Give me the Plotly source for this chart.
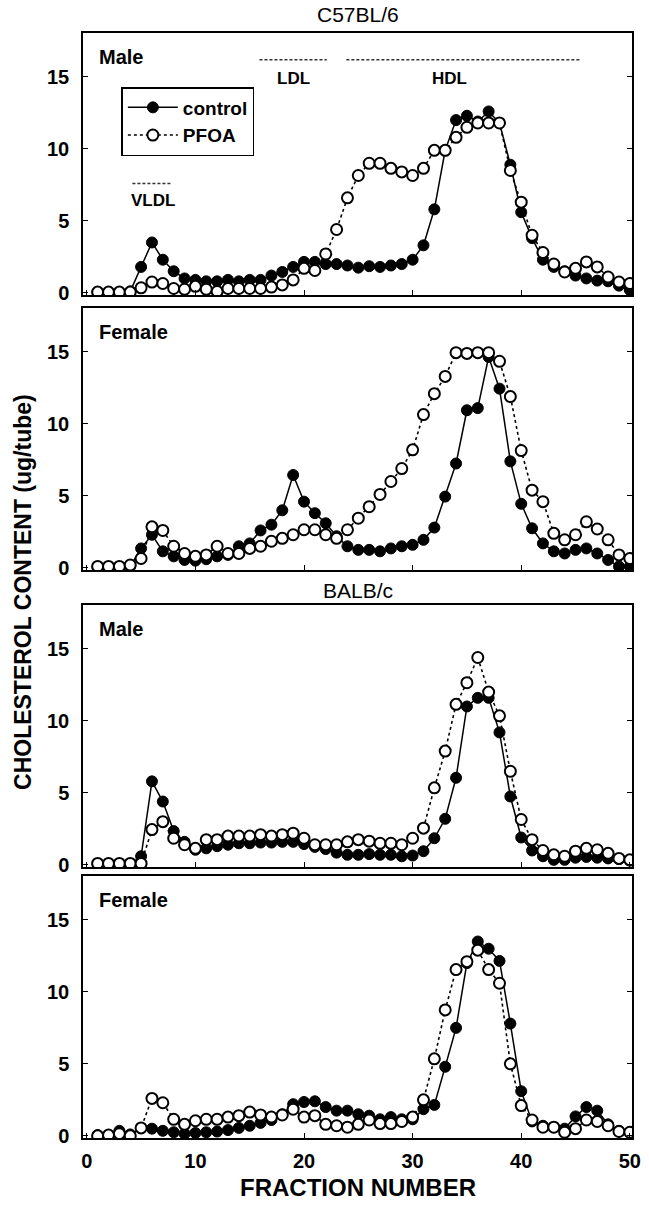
import plotly.graph_objects as go

fractions = list(range(1, 51))

c57_male_control = [0.05, 0.05, 0.05, 0.1, 1.8, 3.5, 2.3, 1.5, 1.0, 0.9,
                    0.8, 0.8, 0.9, 0.8, 0.9, 0.9, 1.2, 1.45, 1.8, 2.15,
                    2.15, 2.0, 2.0, 1.9, 1.75, 1.85, 1.8, 1.9, 2.0, 2.3,
                    3.3, 5.8, 9.9, 12.0, 12.3, 11.9, 12.6, 11.8, 8.9, 5.6,
                    3.8, 2.3, 1.8, 1.5, 1.2, 1.0, 0.85, 0.8, 0.5, 0.2]
c57_male_pfoa = [0.05, 0.05, 0.05, 0.05, 0.35, 0.75, 0.65, 0.3, 0.25, 0.45,
                 0.25, 0.1, 0.3, 0.3, 0.3, 0.3, 0.4, 0.55, 0.9, 1.7,
                 1.55, 2.7, 4.4, 6.6, 8.15, 9.0, 9.0, 8.65, 8.4, 8.15,
                 8.65, 9.9, 9.9, 10.8, 11.5, 11.8, 11.8, 11.8, 8.5, 6.3,
                 4.0, 2.8, 2.0, 1.45, 1.7, 2.15, 1.8, 1.1, 0.75, 0.65]

c57_female_control = [0.05, 0.05, 0.05, 0.1, 1.35, 2.3, 1.15, 0.8, 0.55, 0.5,
                      0.6, 0.8, 0.9, 1.5, 1.7, 2.6, 3.0, 4.0, 6.45, 4.6,
                      3.8, 3.1, 2.2, 1.5, 1.25, 1.25, 1.15, 1.35, 1.5, 1.6,
                      1.95, 2.8, 4.95, 7.25, 10.95, 11.1, 14.65, 12.45, 7.4, 4.45,
                      2.75, 1.7, 1.15, 1.0, 1.25, 1.35, 1.0, 0.55, 0.1, 0.1]
c57_female_pfoa = [0.1, 0.1, 0.1, 0.2, 0.65, 2.85, 2.6, 1.5, 1.0, 0.8,
                   0.9, 1.5, 1.0, 1.0, 1.35, 1.5, 1.85, 2.05, 2.3, 2.65,
                   2.65, 2.3, 2.05, 2.65, 3.45, 4.25, 5.1, 6.0, 6.9, 8.2,
                   10.65, 12.1, 13.3, 14.95, 14.9, 14.95, 14.95, 14.35, 11.9, 8.15,
                   5.4, 4.6, 2.4, 1.95, 2.3, 3.2, 2.7, 1.95, 0.9, 0.65]

balb_male_control = [0.05, 0.05, 0.05, 0.05, 0.6, 5.8, 4.4, 2.35, 1.6, 1.05,
                     1.15, 1.3, 1.4, 1.5, 1.5, 1.55, 1.55, 1.6, 1.6, 1.45,
                     1.25, 1.1, 0.85, 0.7, 0.7, 0.75, 0.7, 0.7, 0.6, 0.65,
                     0.95, 1.85, 3.2, 6.05, 11.0, 11.6, 11.6, 9.2, 4.75, 1.9,
                     1.0, 0.6, 0.35, 0.35, 0.5, 0.55, 0.5, 0.45, 0.4, 0.3]
balb_male_pfoa = [0.1, 0.1, 0.1, 0.1, 0.1, 2.45, 3.0, 1.85, 1.4, 1.15,
                  1.75, 1.75, 2.0, 2.0, 2.0, 2.1, 2.0, 2.1, 2.2, 1.85,
                  1.4, 1.4, 1.4, 1.6, 1.75, 1.65, 1.5, 1.5, 1.4, 1.85,
                  2.55, 5.35, 7.9, 11.15, 12.65, 14.4, 12.0, 10.35, 6.5, 3.15,
                  1.75, 1.0, 0.7, 0.6, 0.95, 1.15, 1.05, 0.8, 0.45, 0.35]

balb_female_control = [0.05, 0.05, 0.35, 0.1, 0.55, 0.5, 0.35, 0.25, 0.15, 0.2,
                       0.25, 0.3, 0.4, 0.55, 0.7, 0.9, 1.1, 1.5, 2.2, 2.35,
                       2.4, 2.0, 1.75, 1.75, 1.5, 1.4, 1.15, 1.3, 1.15, 1.15,
                       1.85, 2.15, 4.8, 7.5, 12.0, 13.5, 13.0, 12.15, 7.8, 3.1,
                       1.0, 0.7, 0.6, 0.5, 1.35, 2.0, 1.75, 0.8, 0.35, 0.25]
balb_female_pfoa = [0.0, 0.05, 0.15, 0.0, 0.55, 2.6, 2.3, 1.15, 0.8, 1.05,
                    1.15, 1.15, 1.3, 1.4, 1.65, 1.45, 1.3, 1.45, 1.85, 1.3,
                    1.4, 0.8, 0.7, 0.6, 0.8, 1.1, 0.85, 0.85, 1.0, 1.3,
                    2.5, 5.35, 8.75, 11.55, 12.1, 12.9, 11.55, 10.6, 5.0, 2.1,
                    1.1, 0.6, 0.6, 0.25, 0.5, 1.1, 1.0, 0.7, 0.3, 0.25]

panel_labels = ["Male", "Female", "Male", "Female"]
x_ticks = [0, 10, 20, 30, 40, 50]
y_ticks = [0, 5, 10, 15]

FONT = "Liberation Sans, Arial, sans-serif"

panels = [(c57_male_control, c57_male_pfoa),
          (c57_female_control, c57_female_pfoa),
          (balb_male_control, balb_male_pfoa),
          (balb_female_control, balb_female_pfoa)]
domains = [[0.7629, 1.0], [0.5140, 0.7511], [0.2452, 0.4824], [0.0, 0.2371]]

fig = go.Figure()
for i, (ctrl, pfoa) in enumerate(panels):
    n = "" if i == 0 else str(i + 1)
    fig.add_trace(go.Scatter(
        x=fractions, y=ctrl, xaxis="x" + n, yaxis="y" + n,
        mode="lines+markers", name="control", showlegend=(i == 0),
        line=dict(color="black", width=1.5),
        marker=dict(symbol="circle", size=11, color="black",
                    line=dict(color="black", width=1))))
    fig.add_trace(go.Scatter(
        x=fractions, y=pfoa, xaxis="x" + n, yaxis="y" + n,
        mode="lines+markers", name="PFOA", showlegend=(i == 0),
        line=dict(color="black", width=1.6, dash="dot"),
        marker=dict(symbol="circle", size=11, color="white",
                    line=dict(color="black", width=2))))

    tickfont = dict(family=FONT, size=20, color="black", weight="bold")
    fig.update_layout(**{
        "xaxis" + n: dict(domain=[0, 1], range=[-0.35, 50.2], anchor="y" + n,
                          tickvals=x_ticks, ticks="inside", ticklen=5,
                          tickcolor="black", tickwidth=1.2,
                          showline=True, mirror=True, linecolor="black",
                          linewidth=1.5, showgrid=False, zeroline=False,
                          showticklabels=(i == 3), tickfont=tickfont,
                          ticklabelstandoff=4),
        "yaxis" + n: dict(domain=domains[i], range=[-0.15, 18.05],
                          anchor="x" + n, tickvals=y_ticks, ticks="inside",
                          ticklen=5, tickcolor="black", tickwidth=1.2,
                          showline=True, mirror="ticks", linecolor="black",
                          linewidth=1.5, showgrid=False, zeroline=False,
                          tickfont=tickfont, ticklabelstandoff=8),
    })

annotations = []
for i, lab in enumerate(panel_labels):
    n = "" if i == 0 else str(i + 1)
    annotations.append(dict(text=lab, x=0.9, y=16.4, xref="x" + n, yref="y" + n,
                            xanchor="left", yanchor="middle", showarrow=False,
                            font=dict(family=FONT, size=20, color="black",
                                      weight="bold")))

annotations += [
    dict(text="C57BL/6", x=0.5, y=(1138 - 14) / 1105, xref="paper", yref="paper",
         xanchor="center", yanchor="middle", showarrow=False,
         font=dict(family=FONT, size=21, color="black")),
    dict(text="BALB/c", x=0.5, y=(1138 - 590) / 1105, xref="paper", yref="paper",
         xanchor="center", yanchor="middle", showarrow=False,
         font=dict(family=FONT, size=21, color="black")),
    dict(text="FRACTION NUMBER", x=0.5, y=(1138 - 1187) / 1105, xref="paper",
         yref="paper", xanchor="center", yanchor="middle", showarrow=False,
         font=dict(family=FONT, size=24, color="black", weight="bold")),
    dict(text="CHOLESTEROL CONTENT (ug/tube)", x=(22 - 83) / 558,
         y=(1138 - 592) / 1105, xref="paper", yref="paper", textangle=-90,
         xanchor="center", yanchor="middle", showarrow=False,
         font=dict(family=FONT, size=23, color="black", weight="bold")),
    dict(text="VLDL", x=6.1, y=6.4, xref="x", yref="y", showarrow=False,
         xanchor="center", yanchor="middle",
         font=dict(family=FONT, size=17, color="black", weight="bold")),
    dict(text="LDL", x=19.0, y=14.9, xref="x", yref="y", showarrow=False,
         xanchor="center", yanchor="middle",
         font=dict(family=FONT, size=17, color="black", weight="bold")),
    dict(text="HDL", x=33.4, y=14.9, xref="x", yref="y", showarrow=False,
         xanchor="center", yanchor="middle",
         font=dict(family=FONT, size=17, color="black", weight="bold")),
]

dash_line = dict(color="#333333", width=1.5, dash="3px,2px")
shapes = [
    dict(type="line", xref="x", yref="y", x0=4.2, x1=7.8, y0=7.6, y1=7.6, line=dash_line),
    dict(type="line", xref="x", yref="y", x0=15.9, x1=22.1, y0=16.2, y1=16.2, line=dash_line),
    dict(type="line", xref="x", yref="y", x0=23.9, x1=45.4, y0=16.2, y1=16.2, line=dash_line),
]

fig.update_layout(
    width=649, height=1211,
    margin=dict(l=83, r=8, t=33, b=73),
    paper_bgcolor="white", plot_bgcolor="white",
    annotations=annotations, shapes=shapes,
    legend=dict(x=(122 - 83) / 558, y=(1138 - 87) / 1105, xanchor="left",
                yanchor="top", bgcolor="white", bordercolor="black",
                borderwidth=1.5, itemwidth=50,
                font=dict(family=FONT, size=19, color="black", weight="bold")),
)

fig.write_html("out.html")
